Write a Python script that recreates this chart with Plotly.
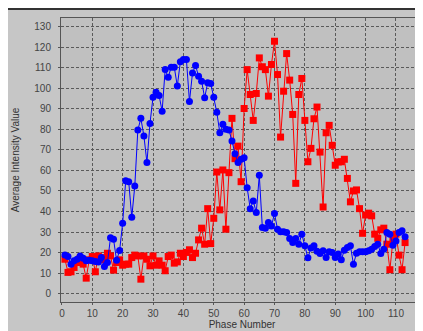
import plotly.graph_objects as go

phase = list(range(1, 114))

blue_values = [18.8, 18.1, 14.4, 16, 16.8, 18.4, 17.3, 16, 16.3, 16, 15.7, 15.5, 17.6, 13.3, 15.2,
               27.3, 26.5, 16.3, 21, 34.3, 54.9, 54.5, 37.2, 52.4, 79.6, 85.3, 76.7, 63.8, 82.8, 95.6,
               98, 96.4, 88.8, 109, 105.3, 110.2, 110.2, 101, 112.8, 113.9, 113.9, 93.5, 107.4, 111, 105.8,
               103.4, 95.3, 102.6, 102.3, 95.6, 88.3, 78.3, 82.4, 80, 79.6, 74.3, 68.1, 63.8, 65.4, 66.2,
               51.6, 41.4, 45.1, 39.5, 57.6, 32.2, 31.9, 34.6, 33, 39, 31.4, 30.1, 30.1, 29.8, 26.9,
               24.9, 26.9, 24.1, 29, 23.3, 17.5, 22.2, 23.3, 20.7, 19.6, 20.9, 17.6, 20.4, 20.1, 17.6,
               19.3, 16.5, 21.2, 22.5, 23.3, 14.4, 19.7, 20.4, 20.4, 20.4, 20.9, 21.7, 23, 24.1, 19.6,
               21.7, 29.8, 29, 23.6, 25.7, 29.8, 30.6, 27.7]

red_values = [16.8, 10.4, 10.7, 12.8, 15.2, 17.2, 14.4, 7.6, 16.5, 18.1, 10.7, 18.4, 16.5, 17.6, 19.7,
              18.4, 11.5, 15.2, 16.5, 13.9, 14.4, 14.4, 17.6, 18.8, 18.4, 7.1, 18.4, 16.8, 13.6, 18.4,
              13.9, 16, 13.9, 11.2, 18.1, 18.8, 14.9, 15.5, 19.7, 18.1, 20.1, 21.4, 17.6, 19.7, 26.2,
              31.9, 24.1, 41.4, 24.4, 36.7, 59.2, 40.8, 60.2, 31.4, 58.9, 85.3, 65.7, 71.8, 54.5, 90.1,
              109, 96.9, 84.3, 97.4, 114.7, 110.4, 109, 96.1, 111.5, 122.8, 106.6, 76.2, 98.5, 116.8, 103.9,
              87.2, 53.7, 96.9, 104.7, 84.3, 64.2, 70.7, 85.1, 90.8, 68.9, 42.2, 78.3, 81.9, 72.2, 62.5,
              64.1, 64.2, 65.4, 56.1, 44.7, 50, 50.5, 41.4, 29.4, 38.3, 39.2, 37.9, 29, 27, 31.1,
              31.9, 24.1, 11.7, 26, 29, 18.8, 11.7, 24.9]

x_ticks = list(range(0, 120, 10))
y_ticks = list(range(0, 140, 10))

FONT = "Liberation Sans, Arial, sans-serif"

fig = go.Figure()
fig.add_trace(go.Scatter(x=phase, y=red_values, mode="lines+markers",
                         line=dict(color="#ff0000", width=1),
                         marker=dict(symbol="square", size=7, color="#ff0000", line=dict(width=0)),
                         name="Series 2"))
fig.add_trace(go.Scatter(x=phase, y=blue_values, mode="lines+markers",
                         line=dict(color="#0000ff", width=1),
                         marker=dict(symbol="circle", size=7, color="#0000ff", line=dict(width=0)),
                         name="Series 1"))

axis_common = dict(showline=True, linecolor="#555555", linewidth=1, mirror=True,
                   showgrid=True, gridcolor="#5a5a5a", gridwidth=1, griddash="3px,2px",
                   zeroline=False, ticks="outside", ticklen=2, tickcolor="#555555",
                   tickfont=dict(family=FONT, size=10, color="#444444"))

fig.update_layout(
    width=423, height=331,
    margin=dict(l=41, r=7, t=10, b=37),
    paper_bgcolor="#c6c6c6", plot_bgcolor="#c0c0c0",
    showlegend=False,
    xaxis=dict(range=[-0.3, 118.9], tickvals=x_ticks, ticklabelstandoff=0,
               title=dict(text="Phase Number", font=dict(family=FONT, size=10, color="#333333"), standoff=0),
               **axis_common),
    yaxis=dict(range=[-4, 134.1], tickvals=y_ticks, ticklabelstandoff=5,
               title=dict(text="Average Intensity Value", font=dict(family=FONT, size=10, color="#333333"), standoff=12),
               **axis_common),
    shapes=[
        dict(type="rect", xref="paper", yref="paper", x0=-0.2, x1=1.03, y0=1.028, y1=1.04,
             fillcolor="#333333", line=dict(width=0), layer="above"),
        dict(type="rect", xref="paper", yref="paper", x0=1.0098, x1=1.03, y0=-0.14, y1=1.04,
             fillcolor="#333333", line=dict(width=0), layer="above"),
        dict(type="rect", xref="paper", yref="paper", x0=-0.2, x1=1.03, y0=-0.14, y1=-0.1232,
             fillcolor="#333333", line=dict(width=0), layer="above"),
    ],
)

fig.write_html("out.html")
